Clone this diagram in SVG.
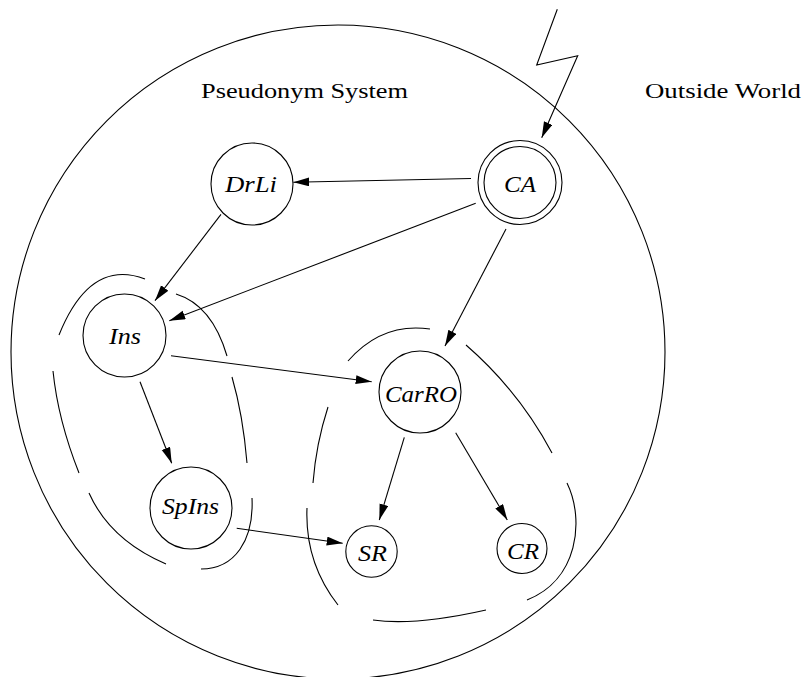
<svg xmlns="http://www.w3.org/2000/svg" width="802" height="677" viewBox="0 0 802 677">
<style>
  .ln { fill: none; stroke: #000; stroke-width: 1.1; }
  .nd { fill: #fff; stroke: #000; stroke-width: 1.1; }
  .lbl { font-style: italic; font-size: 24px; fill: #000; text-anchor: middle; }
  .ttl { font-size: 20px; fill: #000; }
</style>
<defs>
  <marker id="ah" markerUnits="userSpaceOnUse" markerWidth="17" markerHeight="10" refX="16" refY="4.5" orient="auto">
    <path d="M0,0 L16,4.5 L0,9 Z" fill="#000"/>
  </marker>
</defs>
<rect width="802" height="677" fill="#fff"/>

<g id="system-boundary">
  <circle class="ln" cx="338" cy="352" r="327"/>
</g>

<g id="titles" font-family="'Liberation Serif', 'DejaVu Serif', serif">
  <text class="ttl" x="201" y="98.3" textLength="207" lengthAdjust="spacingAndGlyphs">Pseudonym System</text>
  <text class="ttl" x="645" y="98.3" textLength="156" lengthAdjust="spacingAndGlyphs">Outside World</text>
</g>

<g id="group-ins">
  <path class="ln" d="M59,335 Q90,258 145,279"/>
  <path class="ln" d="M176,294 Q212,305 227,356"/>
  <path class="ln" d="M53,371 Q58,420 79,473"/>
  <path class="ln" d="M232,377 Q243,415 247,463"/>
  <path class="ln" d="M89,493 Q110,540 166,564"/>
  <path class="ln" d="M252,498 C254,540 235,569 201,569"/>
</g>

<g id="group-carro">
  <path class="ln" d="M348,361 Q382,322 430,329"/>
  <path class="ln" d="M466,345 Q519,391 552,453"/>
  <path class="ln" d="M328,407 Q316,444 313,483"/>
  <path class="ln" d="M567,483 C585,520 578,580 527,600"/>
  <path class="ln" d="M307,508 Q304.7,562.5 338,605"/>
  <path class="ln" d="M373,620 Q415,626 486,610"/>
</g>

<g id="connectors">
  <line class="ln" x1="471" y1="178.5" x2="293.3" y2="182.3" marker-end="url(#ah)"/>
  <line class="ln" x1="475.7" y1="203.3" x2="169.3" y2="320.7" marker-end="url(#ah)"/>
  <line class="ln" x1="221" y1="214.3" x2="155" y2="300.7" marker-end="url(#ah)"/>
  <line class="ln" x1="506" y1="229" x2="445" y2="346" marker-end="url(#ah)"/>
  <line class="ln" x1="171" y1="355.7" x2="371.7" y2="381.7" marker-end="url(#ah)"/>
  <line class="ln" x1="140" y1="381.7" x2="171.7" y2="463.3" marker-end="url(#ah)"/>
  <line class="ln" x1="236.7" y1="528.3" x2="342.7" y2="543.3" marker-end="url(#ah)"/>
  <line class="ln" x1="404.3" y1="437.3" x2="379.3" y2="520" marker-end="url(#ah)"/>
  <line class="ln" x1="455.7" y1="432.7" x2="507.3" y2="520" marker-end="url(#ah)"/>
  <polyline class="ln" points="557.3,9.3 536.7,65 577.7,55.7 541.7,137.7" marker-end="url(#ah)"/>
</g>

<g id="nodes" font-family="'Liberation Serif', 'DejaVu Serif', serif">
<g id="node-DrLi">
  <circle class="nd" cx="252" cy="184" r="41"/>
  <text class="lbl" x="251" y="191.7" textLength="52" lengthAdjust="spacingAndGlyphs">DrLi</text>
</g>
<g id="node-CA">
  <circle class="nd" cx="520" cy="182.5" r="42"/>
  <circle class="nd" cx="520" cy="182.5" r="36"/>
  <text class="lbl" x="520" y="191.7" textLength="32" lengthAdjust="spacingAndGlyphs">CA</text>
</g>
<g id="node-Ins">
  <circle class="nd" cx="124.5" cy="335.5" r="41.5"/>
  <text class="lbl" x="125" y="344" textLength="32" lengthAdjust="spacingAndGlyphs">Ins</text>
</g>
<g id="node-SpIns">
  <circle class="nd" cx="191" cy="508" r="41"/>
  <text class="lbl" x="190.5" y="514.3" textLength="57" lengthAdjust="spacingAndGlyphs">SpIns</text>
</g>
<g id="node-CarRO">
  <circle class="nd" cx="420" cy="392" r="41"/>
  <text class="lbl" x="421" y="401.7" textLength="72" lengthAdjust="spacingAndGlyphs">CarRO</text>
</g>
<g id="node-SR">
  <circle class="nd" cx="371.5" cy="551.5" r="25.7"/>
  <text class="lbl" x="372.5" y="560.7" textLength="29" lengthAdjust="spacingAndGlyphs">SR</text>
</g>
<g id="node-CR">
  <circle class="nd" cx="522" cy="548.5" r="25"/>
  <text class="lbl" x="523" y="559.3" textLength="32" lengthAdjust="spacingAndGlyphs">CR</text>
</g>
</g>
</svg>
